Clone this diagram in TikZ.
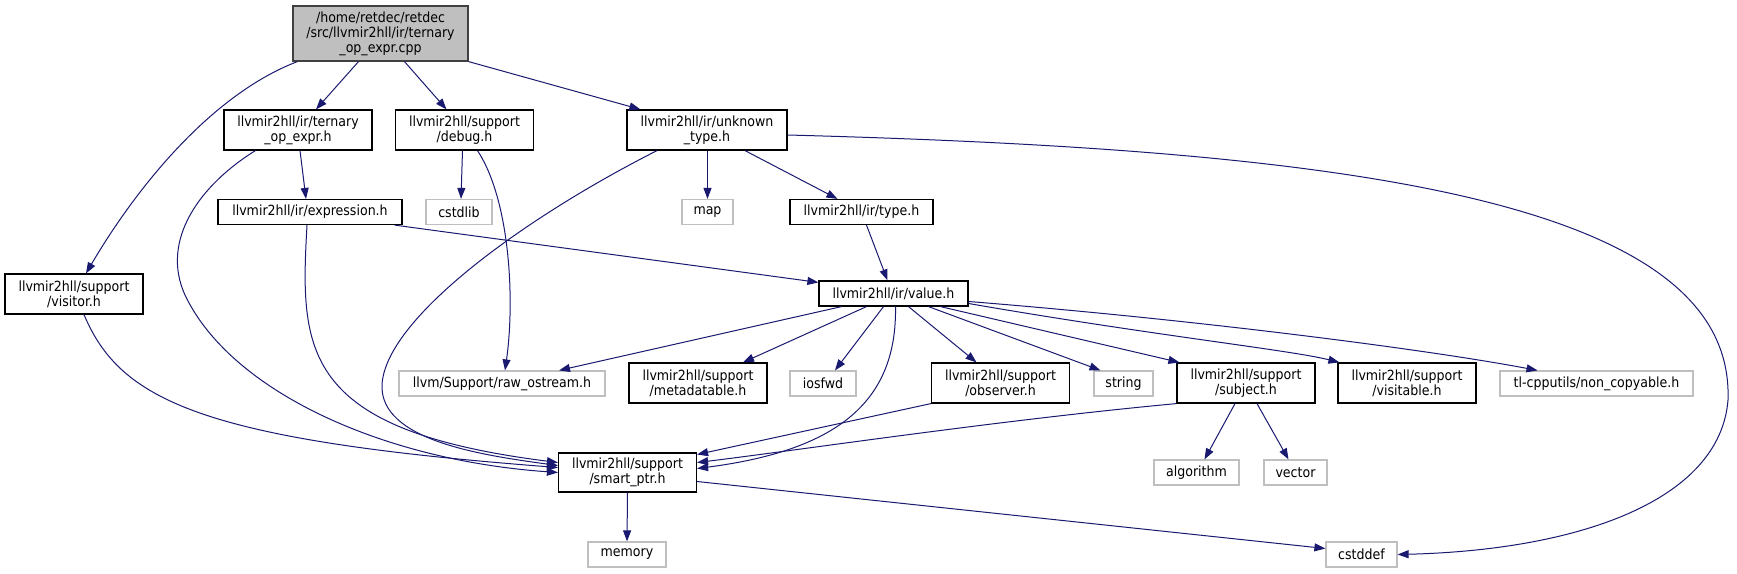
\documentclass[tikz,border=0pt]{standalone}
\usepackage{fontspec}
\usepackage{xcolor}
\usepackage{tikz}
\usetikzlibrary{arrows.meta, positioning}
\newfontfamily\graphfont{DejaVu Sans Condensed}
\definecolor{edgeblue}{HTML}{191970}
\definecolor{rootgray}{HTML}{BFBFBF}

\begin{document}
\begin{tikzpicture}[
    x=1pt, y=-1pt,
    every node/.style={font=\graphfont\fontsize{14}{15}\selectfont},
    box/.style={rectangle, draw=black, line width=1.2pt, inner sep=0pt, align=center},
    sysbox/.style={box, draw=rootgray},
    rootbox/.style={box, fill=rootgray, draw=black!75},
    two/.style={minimum width=138, minimum height=40},
    one/.style={minimum height=25},
    arrow/.style={-{Triangle[length=11pt,width=8pt]}, draw=edgeblue, line width=1pt}
]
\useasboundingbox (0,0) rectangle (1737,573);

% Files
\node[rootbox, minimum width=175, minimum height=55] (root) at (380.5,33.5) {/home/retdec/retdec\\/src/llvmir2hll/ir/ternary\\\_op\_expr.cpp};
\node[box, minimum width=148, minimum height=40] (ternary) at (298,130) {llvmir2hll/ir/ternary\\\_op\_expr.h};
\node[box, two] (debug) at (464.5,130) {llvmir2hll/support\\/debug.h};
\node[box, minimum width=160, minimum height=40] (unknown) at (707,130) {llvmir2hll/ir/unknown\\\_type.h};
\node[box, two] (visitor) at (74,294) {llvmir2hll/support\\/visitor.h};
\node[box, one, minimum width=184] (expression) at (310,212) {llvmir2hll/ir/expression.h};
\node[sysbox, one, minimum width=66] (cstdlib) at (459,212) {cstdlib};
\node[sysbox, one, minimum width=51] (map) at (707.5,212) {map};
\node[box, one, minimum width=143] (type) at (861.5,212) {llvmir2hll/ir/type.h};
\node[box, one, minimum width=149] (value) at (893.5,293.5) {llvmir2hll/ir/value.h};
\node[sysbox, one, minimum width=206] (raw) at (502,383.5) {llvm/Support/raw\_ostream.h};
\node[box, two] (metadatable) at (698,383) {llvmir2hll/support\\/metadatable.h};
\node[sysbox, one, minimum width=66] (iosfwd) at (823,383.5) {iosfwd};
\node[box, two] (observer) at (1000.5,383) {llvmir2hll/support\\/observer.h};
\node[sysbox, one, minimum width=59] (string) at (1123.5,383.5) {string};
\node[box, two] (subject) at (1246,383) {llvmir2hll/support\\/subject.h};
\node[box, two] (visitable) at (1407,383) {llvmir2hll/support\\/visitable.h};
\node[sysbox, one, minimum width=193] (noncopy) at (1596.5,383.5) {tl-cpputils/non\_copyable.h};
\node[box, two, minimum height=39] (smart) at (627.5,472.5) {llvmir2hll/support\\/smart\_ptr.h};
\node[sysbox, one, minimum width=85] (algorithm) at (1196.5,472.5) {algorithm};
\node[sysbox, one, minimum width=63] (vector) at (1295.5,472.5) {vector};
\node[sysbox, one, minimum width=78] (memory) at (627,554.5) {memory};
\node[sysbox, one, minimum width=71] (cstddef) at (1361.5,554.5) {cstddef};

% Includes
\draw[arrow] ([xshift=5]root.south west) .. controls (210,95) and (135,190) .. ([xshift=12]visitor.north);
\draw[arrow] ([xshift=-22]root.south) -- ([xshift=18]ternary.north);
\draw[arrow] ([xshift=24]root.south) -- ([xshift=-18]debug.north);
\draw[arrow] (root.south east) -- ([xshift=14]unknown.north west);
\draw[arrow] ([xshift=2]ternary.south) -- ([xshift=-4]expression.north);
\draw[arrow] ([xshift=32]ternary.south west) .. controls (200,185) and (160,240) .. (185,295)
    .. controls (230,390) and (380,460) .. (smart.west);
\draw[arrow] ([xshift=-2]debug.south) -- ([xshift=2]cstdlib.north);
\draw[arrow] ([xshift=13]debug.south) .. controls (510,200) and (515,300) .. ([xshift=3]raw.north);
\draw[arrow] ([xshift=-50]unknown.south) .. controls (520,220) and (385,320) .. (382,385)
    .. controls (380,440) and (480,455) .. ([yshift=7]smart.west);
\draw[arrow] (unknown.south -| map.north) -- (map.north);
\draw[arrow] ([xshift=38]unknown.south) -- ([xshift=-24]type.north);
\draw[arrow] ([yshift=-5]unknown.east) .. controls (1350,150) and (1735,200) .. (1728,400)
    .. controls (1720,500) and (1580,550) .. (cstddef.east);
\draw[arrow] ([xshift=-3]expression.south) .. controls (300,350) and (300,430) .. ([yshift=10]smart.west);
\draw[arrow] ([xshift=-8]expression.south east) -- ([yshift=-2]value.north west);
\draw[arrow] ([xshift=5]type.south) -- ([xshift=-6]value.north);
\draw[arrow] ([xshift=-52]value.south) -- ([xshift=57]raw.north);
\draw[arrow] ([xshift=-27]value.south) -- ([xshift=45]metadatable.north);
\draw[arrow] ([xshift=-10]value.south) -- ([xshift=12]iosfwd.north);
\draw[arrow] ([xshift=2]value.south) .. controls (897,400) and (840,450) .. ([yshift=4]smart.east);
\draw[arrow] ([xshift=15]value.south) -- ([xshift=-24]observer.north);
\draw[arrow] ([xshift=35]value.south) -- ([xshift=-23]string.north);
\draw[arrow] ([xshift=47]value.south) -- ([xshift=3]subject.north west);
\draw[arrow] ([yshift=-10]value.east) .. controls (1150,335) and (1290,350) .. ([xshift=2]visitable.north west);
\draw[arrow] ([yshift=-8]value.east) .. controls (1200,320) and (1430,350) .. ([xshift=-59]noncopy.north);
\draw[arrow] ([xshift=10]visitor.south) .. controls (120,400) and (200,440) .. ([yshift=5]smart.west);
\draw[arrow] (observer.south west) -- ([yshift=18]smart.east);
\draw[arrow] (subject.south west) .. controls (1000,420) and (800,450) .. ([yshift=10]smart.east);
\draw[arrow] ([xshift=-11]subject.south) -- ([xshift=8]algorithm.north);
\draw[arrow] ([xshift=11]subject.south) -- ([xshift=-7]vector.north);
\draw[arrow] (smart.south) -- (memory.north);
\draw[arrow] ([yshift=-9]smart.east) -- ([yshift=6]cstddef.west);

\end{tikzpicture}
\end{document}
